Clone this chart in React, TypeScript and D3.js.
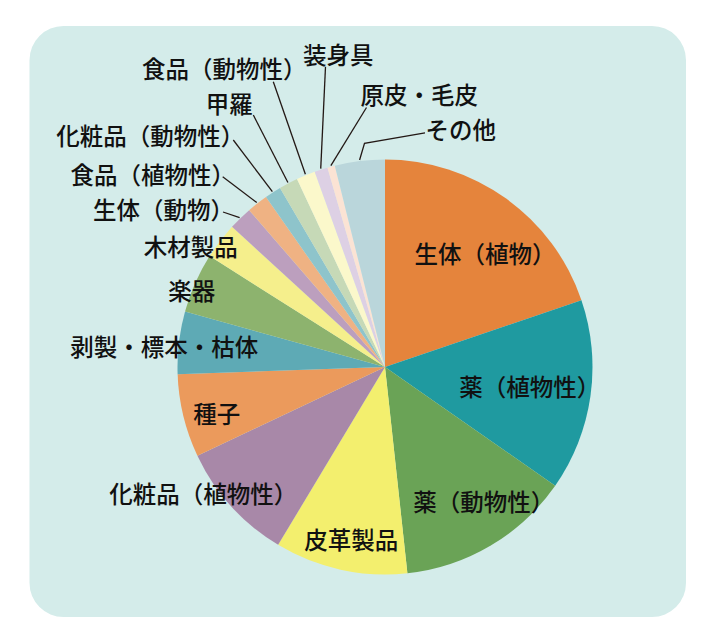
import React from "react";
import * as d3 from "d3";

// ---- data (slice values in degrees of the full 360° pie, clockwise from 12 o'clock)
const categories = [
  "生体（植物）",
  "薬（植物性）",
  "薬（動物性）",
  "皮革製品",
  "化粧品（植物性）",
  "種子",
  "剥製・標本・枯体",
  "楽器",
  "木材製品",
  "生体（動物）",
  "食品（植物性）",
  "化粧品（動物性）",
  "甲羅",
  "食品（動物性）",
  "装身具",
  "原皮・毛皮",
  "その他",
];
const values = [71.2, 53.7, 48.9, 37.2, 33.7, 23.3, 17.5, 16.8, 10.2, 6.6, 5.9, 4.6, 5.3, 5.3, 3.7, 2.1, 14];
const colors = [
  "#e5843c", "#1f9aa0", "#6aa356", "#f3ef6e", "#a888a8", "#eb9a5c", "#5eaab5", "#8db36e",
  "#f5ef8c", "#bc9fbe", "#efb283", "#8ec4cb", "#c6d9b7", "#fbf8cb", "#ddd0e4", "#fbe3d4", "#bad6db",
];

// ---- layout (label centres; leader line start points for outside labels)
const labelPos: [number, number][] = [
  [485, 253.3], [529.8, 386], [483.8, 501.3], [351.2, 539.2], [203.2, 492.5], [216.7, 412.8],
  [164.2, 345.8], [191.7, 289.5], [190.8, 245.8], [163.5, 209.2], [152.7, 173.7], [150.2, 134.7],
  [229.2, 102.5], [224.3, 67.5], [338.3, 54.2], [419.2, 94.2], [460.8, 129],
];
const leaderStart: ([number, number][] | null)[] = [
  null, null, null, null, null, null, null, null, null,
  [[223, 212]], [[222.7, 176.7]], [[233.3, 140]], [[253.3, 115]], [[273.3, 81.7]],
  [[325.5, 66.7]], [[366.5, 107.5]], [[425, 132.8], [364.5, 143.3]],
];

const W = 707, H = 630;
const CX = 385, CY = 367, R = 207.5;

export default function App() {
  const pie = d3.pie<number>().sort(null).value((d) => d);
  const arcs = pie(values);
  const arc = d3.arc<d3.PieArcDatum<number>>().innerRadius(0).outerRadius(R);
  const font = "'Noto Sans CJK JP', 'Noto Sans', sans-serif";

  return (
    <svg width={W} height={H} style={{ position: "absolute", left: 0, top: 0 }}>
      <rect x={0} y={0} width={W} height={H} fill="#ffffff" />
      <rect x={29.5} y={26} width={656.5} height={591} rx={34} ry={34} fill="#d4ecea" />
      <g transform={`translate(${CX},${CY})`}>
        {arcs.map((a, i) => (
          <path key={i} d={arc(a) || ""} fill={colors[i]} />
        ))}
      </g>
      {arcs.map((a, i) => {
        const pts = leaderStart[i];
        if (!pts) return null;
        const mid = (a.startAngle + a.endAngle) / 2;
        const rr = R + 1;
        const end: [number, number] = [CX + rr * Math.sin(mid), CY - rr * Math.cos(mid)];
        const line = d3.line()([...pts, end]) || "";
        return <path key={"l" + i} d={line} fill="none" stroke="#231815" strokeWidth={1.3} />;
      })}
      {categories.map((c, i) => (
        <text
          key={"t" + i}
          x={labelPos[i][0]}
          y={labelPos[i][1]}
          textAnchor="middle"
          dominantBaseline="central"
          fontFamily={font}
          fontSize={23.5}
          fontWeight={500}
          fill="#111111"
        >
          {c}
        </text>
      ))}
    </svg>
  );
}
